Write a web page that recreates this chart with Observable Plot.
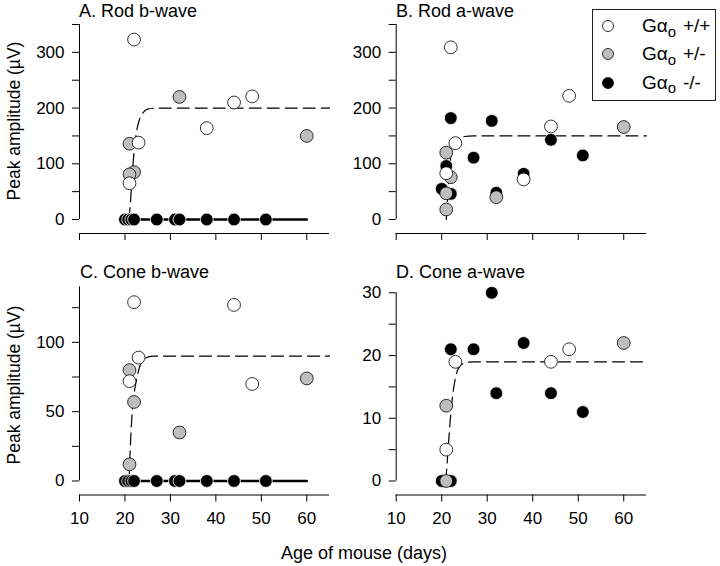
<!DOCTYPE html>
<html>
<head>
<meta charset="utf-8">
<script src="https://cdn.jsdelivr.net/npm/d3@7"></script>
<script src="https://cdn.jsdelivr.net/npm/@observablehq/plot@0.6"></script>
<style>
  body { margin: 0; background: #fff; }
  #wrap { position: relative; width: 720px; height: 566px; background: #fff;
          font-family: "Liberation Sans", Arial, Helvetica, sans-serif; color: #000; overflow: hidden; }
  .panel { position: absolute; }
  .title { position: absolute; font-size: 18px; line-height: 18px; white-space: nowrap; }
  .ylab { position: absolute; font-size: 17.5px; white-space: nowrap; transform: translate(-50%, -50%) rotate(-90deg); }
  .xlab { position: absolute; font-size: 18px; white-space: nowrap; transform: translate(-50%, -50%); }
  #legend { position: absolute; left: 592px; top: 9px; width: 122px; height: 90px; border: 1px solid #222; background: #fff; }
  .lrow { position: absolute; left: 0; height: 22px; width: 122px; font-size: 19px; line-height: 22px; }
  .lrow svg { position: absolute; left: 8px; top: 4px; }
  .lrow .g { position: absolute; left: 49px; top: 0; }
  .lrow .g sub { font-size: 15px; position: relative; top: 0px; vertical-align: sub; }
  .lrow .s { position: absolute; left: 90px; top: 0; }
</style>
</head>
<body>
<div id="wrap"></div>
<script>
// ---------- data ----------
const xDomain = [10, 65];
const xTicks = [10, 20, 30, 40, 50, 60];

// A. Rod b-wave
const rodBDomain = [0, 350];
const rodBTicks = [0, 50, 100, 150, 200, 250, 300, 350];
const rodBLabels = [0, 100, 200, 300];
const rodB_wt = [[22, 323], [23, 138], [21, 65], [38, 164], [44, 210], [48, 221]];
const rodB_het = [[32, 220], [21, 136], [22, 85], [21, 81], [60, 150]];
const rodB_ko = [[20, 0], [20.7, 0], [21.4, 0], [22, 0], [27, 0], [31, 0], [32, 0], [38, 0], [44, 0], [51, 0]];
const rodB_fit = [[20.9, 0], [21.2, 30], [21.6, 80], [22.1, 130], [22.6, 160], [23.2, 180], [24, 192], [25, 198], [27, 200], [65, 200]];
const rodB_koFit = [[20, 0], [60, 0]];

// B. Rod a-wave
const rodADomain = [0, 350];
const rodATicks = [0, 50, 100, 150, 200, 250, 300, 350];
const rodALabels = [0, 100, 200, 300];
const rodA_wt = [[22, 309], [23, 137], [21, 83], [38, 72], [44, 167], [48, 222]];
const rodA_het = [[21, 120], [22, 76], [21, 47], [21, 18], [32, 40], [60, 166]];
const rodA_ko = [[22, 182], [21, 96], [20, 55], [22, 46], [27, 111], [31, 177], [32, 48], [38, 82], [44, 143], [51, 115]];
const rodA_fit = [[21, 0], [21.3, 40], [21.7, 90], [22.2, 125], [22.8, 140], [23.5, 146], [25, 149], [27, 150], [65, 150]];

// C. Cone b-wave
const coneBDomain = [0, 140];
const coneBTicks = [0, 25, 50, 75, 100, 125];
const coneBLabels = [0, 50, 100];
const coneB_wt = [[22, 129], [44, 127], [23, 89], [21, 72], [48, 70]];
const coneB_het = [[21, 80], [22, 57], [32, 35], [21, 12], [60, 74]];
const coneB_ko = [[20, 0], [20.7, 0], [21.4, 0], [22, 0], [27, 0], [31, 0], [32, 0], [38, 0], [44, 0], [51, 0]];
const coneB_fit = [[20.9, 0], [21.1, 18], [21.6, 50], [22.1, 65], [22.6, 74], [23.4, 84], [24.5, 88.5], [26, 90], [65, 90]];
const coneB_koFit = [[20, 0], [60, 0]];

// D. Cone a-wave
const coneADomain = [0, 30];
const coneATicks = [0, 5, 10, 15, 20, 25, 30];
const coneALabels = [0, 10, 20, 30];
const coneA_wt = [[23, 19], [44, 19], [48, 21], [21, 5]];
const coneA_het = [[21, 12], [60, 22], [21, 0]];
const coneA_ko = [[31, 30], [22, 21], [27, 21], [38, 22], [32, 14], [44, 14], [51, 11], [20, 0], [22, 0]];
const coneA_fit = [[20.9, 0], [21.3, 4], [21.8, 9], [22.3, 13], [22.9, 16], [23.7, 18], [25, 18.8], [27, 19], [65, 19]];

const titles = ["A. Rod b-wave", "B. Rod a-wave", "C. Cone b-wave", "D. Cone a-wave"];
const legendLabels = ["+/+", "+/-", "-/-"];
const yTitle = "Peak amplitude (\u00b5V)";
const xTitle = "Age of mouse (days)";

// ---------- drawing ----------
const wrap = document.getElementById("wrap");
const GRAY = "#bebebe";
const R = 6.4;

function panel(cfg) {
  const marks = [
    Plot.ruleX([xDomain[0]], {y1: cfg.yDomain[0], y2: cfg.yDomain[1], stroke: "black", strokeWidth: 1}),
    Plot.ruleY([cfg.yDomain[0]], {x1: xDomain[0], x2: xDomain[1], dy: 14, stroke: "black", strokeWidth: 1}),
    Plot.axisY(cfg.yTicks, {tickSize: 7, tickPadding: 8, tickFormat: d => cfg.yLabels.includes(d) ? String(d) : ""}),
    Plot.axisX(xTicks, {tickSize: 7, dy: 14, tickPadding: 10, tickFormat: d => cfg.showX ? String(d) : ""}),
    Plot.line(cfg.fit, {x: d => d[0], y: d => d[1], stroke: "black", strokeWidth: 1.2, strokeDasharray: "12,6", curve: "monotone-x"})
  ];
  if (cfg.koFit) marks.push(Plot.line(cfg.koFit, {x: d => d[0], y: d => d[1], stroke: "black", strokeWidth: 2.5}));
  marks.push(
    Plot.dot(cfg.ko, {x: d => d[0], y: d => d[1], r: R, fill: "black", stroke: "white", strokeWidth: 0.8}),
    Plot.dot(cfg.het, {x: d => d[0], y: d => d[1], r: R, fill: GRAY, stroke: "black", strokeWidth: 0.8}),
    Plot.dot(cfg.wt, {x: d => d[0], y: d => d[1], r: R, fill: "white", stroke: "black", strokeWidth: 0.8})
  );
  const svg = Plot.plot({
    width: cfg.w, height: cfg.h,
    marginLeft: cfg.ml, marginRight: cfg.mr, marginTop: cfg.mt, marginBottom: cfg.mb,
    x: {domain: xDomain, label: null},
    y: {domain: cfg.yDomain, label: null},
    style: {fontSize: "17px", fontFamily: "'Liberation Sans', Arial, Helvetica, sans-serif", background: "transparent", color: "black"},
    marks
  });
  svg.classList.add("panel");
  svg.style.left = cfg.left + "px";
  svg.style.top = cfg.top + "px";
  svg.style.maxWidth = "none";
  wrap.appendChild(svg);
}

// left panels: x 10 -> 79, 65 -> 329 ; right panels: x 10 -> 395.7, 65 -> 646
panel({left: 0, top: 0, w: 345, h: 250, ml: 79, mr: 16, mt: 24, mb: 31,
  yDomain: rodBDomain, yTicks: rodBTicks, yLabels: rodBLabels, showX: false,
  wt: rodB_wt, het: rodB_het, ko: rodB_ko, fit: rodB_fit, koFit: rodB_koFit});
panel({left: 345, top: 0, w: 375, h: 250, ml: 50.7, mr: 74, mt: 24, mb: 31,
  yDomain: rodADomain, yTicks: rodATicks, yLabels: rodALabels, showX: false,
  wt: rodA_wt, het: rodA_het, ko: rodA_ko, fit: rodA_fit});
panel({left: 0, top: 250, w: 345, h: 290, ml: 79, mr: 16, mt: 36.4, mb: 59.5,
  yDomain: coneBDomain, yTicks: coneBTicks, yLabels: coneBLabels, showX: true,
  wt: coneB_wt, het: coneB_het, ko: coneB_ko, fit: coneB_fit, koFit: coneB_koFit});
panel({left: 345, top: 250, w: 375, h: 290, ml: 50.7, mr: 74, mt: 42.3, mb: 59.5,
  yDomain: coneADomain, yTicks: coneATicks, yLabels: coneALabels, showX: true,
  wt: coneA_wt, het: coneA_het, ko: coneA_ko, fit: coneA_fit});

// titles
const titlePos = [[79, 2], [396, 2], [80, 263], [396, 263]];
titles.forEach((t, i) => {
  const d = document.createElement("div");
  d.className = "title";
  d.textContent = t;
  d.style.left = titlePos[i][0] + "px";
  d.style.top = titlePos[i][1] + "px";
  wrap.appendChild(d);
});

// axis titles
[[14, 121], [14, 385]].forEach(([x, y]) => {
  const d = document.createElement("div");
  d.className = "ylab";
  d.textContent = yTitle;
  d.style.left = x + "px";
  d.style.top = y + "px";
  wrap.appendChild(d);
});
{
  const d = document.createElement("div");
  d.className = "xlab";
  d.textContent = xTitle;
  d.style.left = "364px";
  d.style.top = "553px";
  wrap.appendChild(d);
}

// legend
const legend = document.createElement("div");
legend.id = "legend";
const legendFills = ["white", GRAY, "black"];
legendLabels.forEach((lab, i) => {
  const row = document.createElement("div");
  row.className = "lrow";
  row.style.top = (5 + i * 28.3) + "px";
  row.innerHTML =
    `<svg width="16" height="16"><circle cx="7" cy="7" r="5.5" fill="${legendFills[i]}" stroke="black" stroke-width="0.8"/></svg>` +
    `<span class="g">G\u03b1<sub>o</sub></span><span class="s">${lab}</span>`;
  legend.appendChild(row);
});
wrap.appendChild(legend);
</script>
</body>
</html>
